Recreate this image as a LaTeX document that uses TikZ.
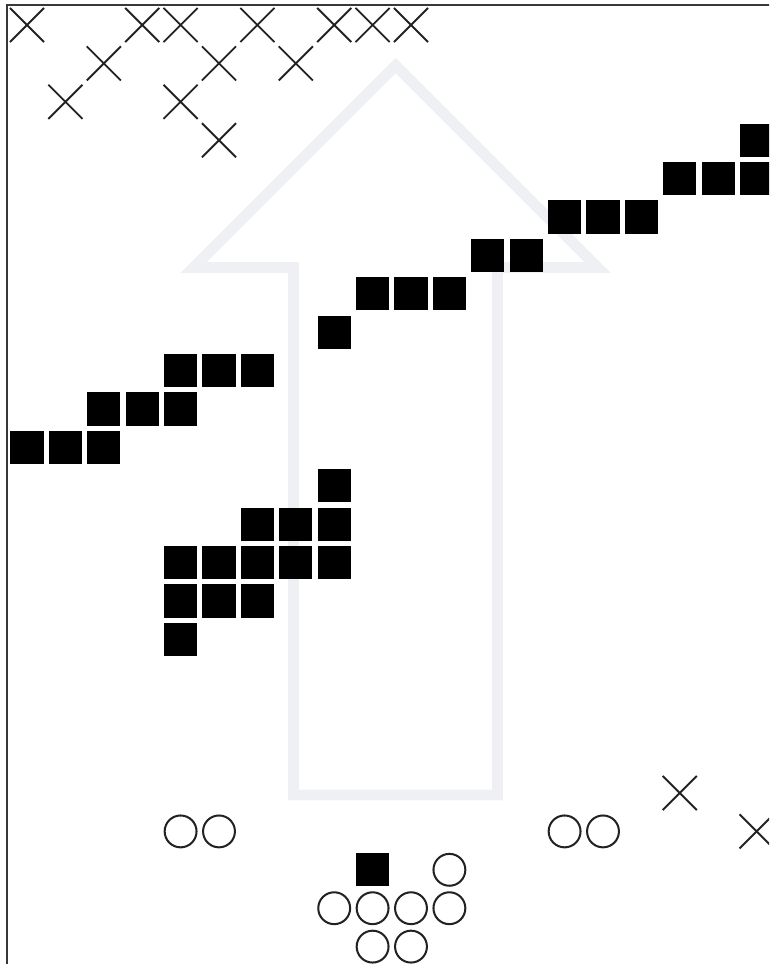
\documentclass[tikz,border=0pt]{standalone}
\usetikzlibrary{shapes.misc}
\definecolor{arrowgray}{HTML}{EFF0F3}
\definecolor{inkgray}{HTML}{222222}
\begin{document}
\begin{tikzpicture}[
  blk/.style={fill=black, inner sep=0pt, minimum size=0.86cm},
  ring/.style={circle, draw=inkgray, line width=1.5pt, inner sep=0pt, minimum size=0.83cm},
  xmark/.style={cross out, draw=inkgray, line width=1.4pt, inner sep=0pt, minimum size=0.84cm},
  frame/.style={draw=inkgray!90, line width=1.6pt}
]
\useasboundingbox (0,0) rectangle (20.026,-25.104);
\clip (0,0) rectangle (20.026,-25.104);
% big hollow arrow behind the board
\draw[arrowgray, line width=8.1pt]
  (10.305,-1.706) -- (15.565,-6.966) -- (12.956,-6.966) -- (12.956,-20.703)
  -- (7.643,-20.703) -- (7.643,-6.966) -- (5.044,-6.966) -- cycle;
% frame, top and left
\coordinate (tl) at (0.182,-0.130);
\coordinate (tr) at (20.1,-0.130);
\coordinate (bl) at (0.182,-25.2);
\draw[frame] (tr) -- (tl) -- (bl);
\begin{scope}[shift={(0.703,-0.651)}, y=-1cm]
% black squares
\foreach \i/\j in {19/3, 17/4, 18/4, 19/4, 14/5, 15/5, 16/5, 12/6, 13/6,
                   9/7, 10/7, 11/7, 8/8, 4/9, 5/9, 6/9, 2/10, 3/10, 4/10,
                   0/11, 1/11, 2/11, 8/12, 6/13, 7/13, 8/13,
                   4/14, 5/14, 6/14, 7/14, 8/14, 4/15, 5/15, 6/15, 4/16, 9/22}
  \node[blk] (sq-\i-\j) at (\i,\j) {};
% rings
\foreach \i/\j in {4/21, 5/21, 14/21, 15/21, 11/22,
                   8/23, 9/23, 10/23, 11/23, 9/24, 10/24}
  \node[ring] (o-\i-\j) at (\i,\j) {};
% crosses
\foreach \i/\j in {0/0, 3/0, 4/0, 6/0, 8/0, 9/0, 10/0, 2/1, 5/1, 7/1,
                   1/2, 4/2, 5/3, 17/20, 19/21}
  \node[xmark] (x-\i-\j) at (\i,\j) {};
\end{scope}
\end{tikzpicture}
\end{document}
